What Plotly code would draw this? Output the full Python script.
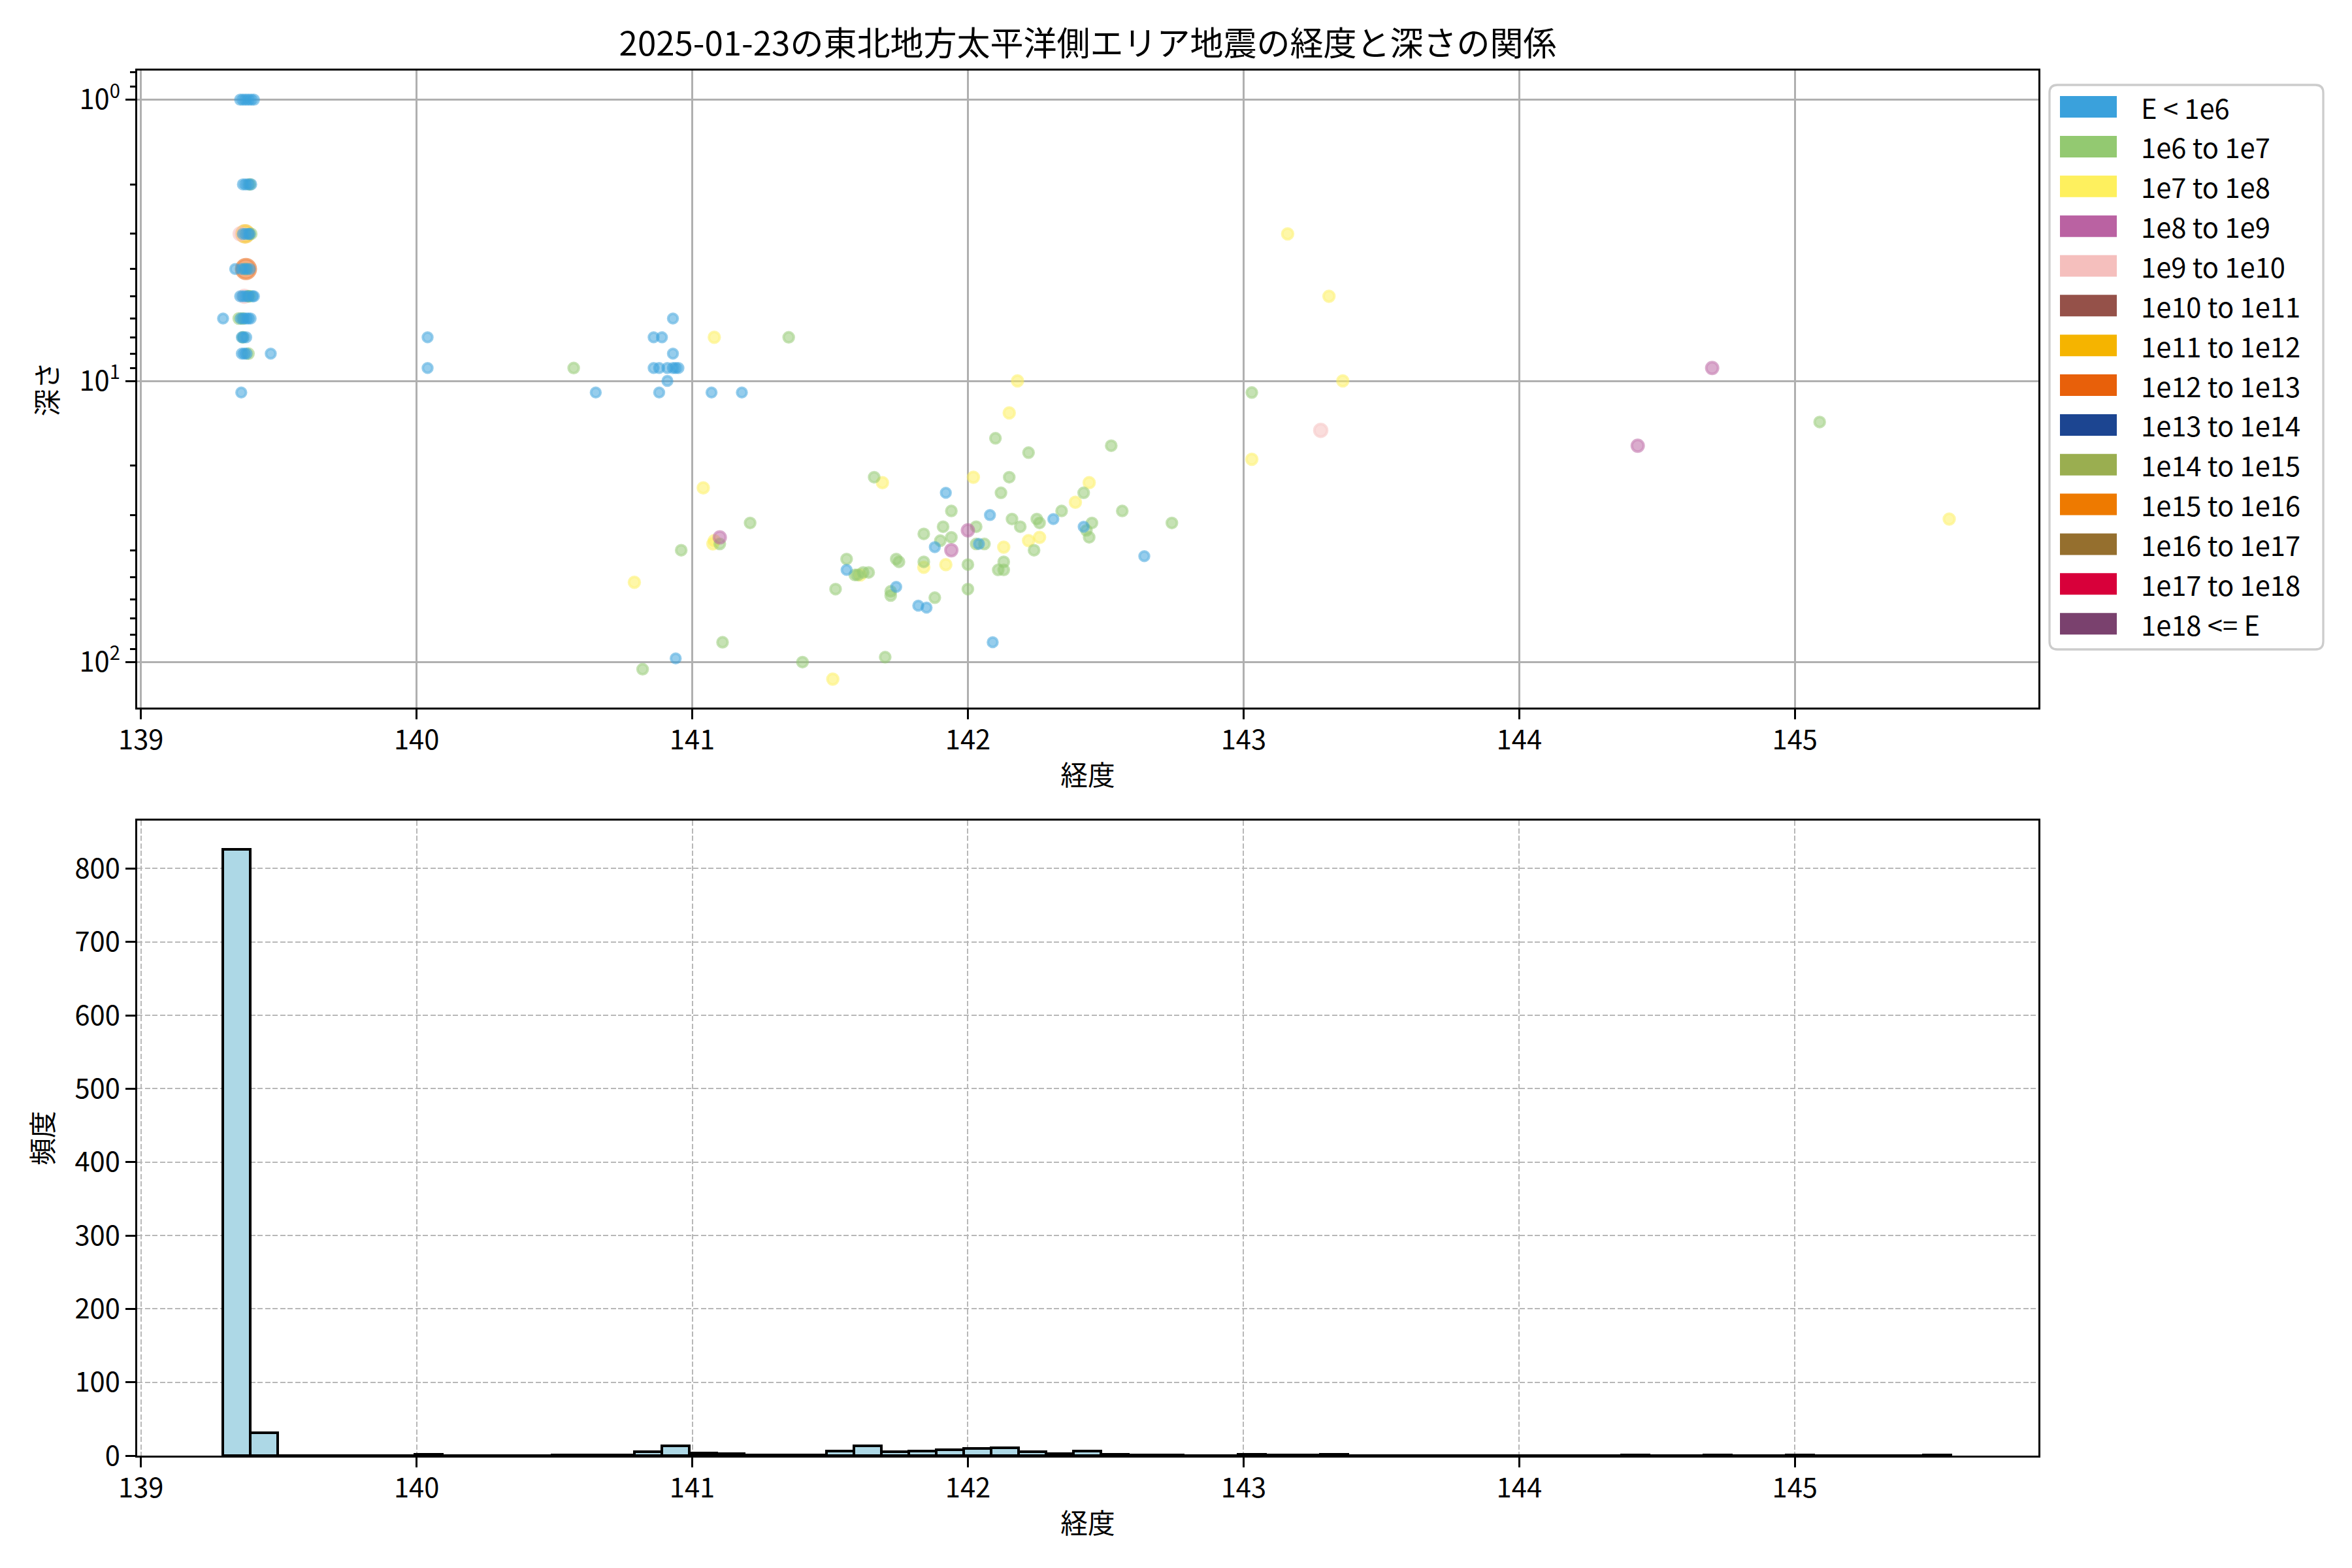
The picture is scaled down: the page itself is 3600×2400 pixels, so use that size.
import plotly.graph_objects as go

# ---------------- data ----------------
TITLE = "2025-01-23の東北地方太平洋側エリア地震の経度と深さの関係"
X_LABEL = "経度"
Y_LABEL_TOP = "深さ"
Y_LABEL_HIST = "頻度"

energy_classes = ["E < 1e6", "1e6 to 1e7", "1e7 to 1e8", "1e8 to 1e9", "1e9 to 1e10",
                  "1e10 to 1e11", "1e11 to 1e12", "1e12 to 1e13", "1e13 to 1e14",
                  "1e14 to 1e15", "1e15 to 1e16", "1e16 to 1e17", "1e17 to 1e18", "1e18 <= E"]

# earthquakes: longitude, depth (km), energy class index
lon = [
    # 1e7-1e8
    141.08, 141.04, 141.08, 141.075, 140.79, 141.51, 142.18, 142.15, 143.03, 141.69,
    142.02, 142.44, 142.39, 142.13, 142.22, 142.26, 141.84, 141.92, 141.61, 143.16,
    143.31, 143.36, 145.56,
    # 1e6-1e7
    140.57, 141.35, 141.21, 141.10, 140.96, 141.11, 140.82, 141.40, 141.56, 141.52,
    142.10, 142.22, 142.52, 143.03, 141.66, 142.15, 142.12, 142.42, 141.94, 142.34,
    142.56, 142.16, 142.25, 142.26, 142.74, 142.45, 142.43, 142.44, 142.19, 142.03,
    141.91, 141.84, 141.94, 141.90, 142.03, 142.06, 142.24, 141.74, 141.75, 141.84,
    142.00, 142.13, 142.11, 142.13, 141.59, 141.60, 141.62, 141.64, 141.72, 141.72,
    141.88, 142.00, 141.70, 145.09,
    # E < 1e6
    140.04, 140.04, 140.93, 140.86, 140.89, 140.93, 140.86, 140.88, 140.91, 140.93,
    140.94, 140.95, 140.91, 140.65, 140.88, 141.07, 141.18, 140.94, 141.56, 141.92,
    142.08, 142.31, 142.42, 141.88, 142.04, 142.64, 141.74, 141.82, 141.85, 142.09,
    # 1e8-1e9
    141.10, 142.00, 141.94, 144.70, 144.43,
    # 1e9-1e10
    143.28,
    # swarm cluster: larger events
    139.381, 139.378, 139.360, 139.375,
    # swarm cluster: 1e6-1e7
    139.395, 139.400, 139.380, 139.390, 139.395, 139.355, 139.370, 139.370, 139.390,
    # swarm cluster: E < 1e6
    139.36, 139.37, 139.38, 139.39, 139.40, 139.41,
    139.37, 139.38, 139.39, 139.40,
    139.37, 139.38, 139.39, 139.395,
    139.342, 139.365, 139.375, 139.385, 139.395,
    139.36, 139.37, 139.38, 139.39, 139.405, 139.41,
    139.298, 139.362, 139.372, 139.382, 139.39, 139.398,
    139.366, 139.372, 139.382,
    139.366, 139.375, 139.383, 139.471,
    139.364,
]
depth = [
    # 1e7-1e8
    7, 24, 37, 38, 52, 115, 10, 13, 19, 23,
    22, 23, 27, 39, 37, 36, 46, 45, 49, 3,
    5, 10, 31,
    # 1e6-1e7
    9, 7, 32, 38, 40, 85, 106, 100, 43, 55,
    16, 18, 17, 11, 22, 22, 25, 25, 29, 29,
    29, 31, 31, 32, 32, 32, 34, 36, 33, 33,
    33, 35, 36, 37, 38, 38, 40, 43, 44, 44,
    45, 44, 47, 47, 49, 49, 48, 48, 58, 56,
    59, 55, 96, 14,
    # E < 1e6
    7, 9, 6, 7, 7, 8, 9, 9, 9, 9,
    9, 9, 10, 11, 11, 11, 11, 97, 47, 25,
    30, 31, 33, 39, 38, 42, 54, 63, 64, 85,
    # 1e8-1e9
    36, 34, 40, 9, 17,
    # 1e9-1e10
    15,
    # swarm cluster: larger events
    4, 3, 3, 5,
    # swarm cluster: 1e6-1e7
    2, 3, 4, 5, 5, 6, 6, 7, 8,
    # swarm cluster: E < 1e6
    1, 1, 1, 1, 1, 1,
    2, 2, 2, 2,
    3, 3, 3, 3,
    4, 4, 4, 4, 4,
    5, 5, 5, 5, 5, 5,
    6, 6, 6, 6, 6, 6,
    7, 7, 7,
    8, 8, 8, 8,
    11,
]
energy_class = (
    [2] * 23 + [1] * 54 + [0] * 30 + [3] * 5 + [4] * 1
    + [7, 6, 4, 4]
    + [1] * 9
    + [0] * 45
)

# histogram of longitude (bins start, width, counts)
hist_bin_start = 139.297
hist_bin_width = 0.09952
hist_counts = [826, 31, 0, 0, 0, 0, 0, 2, 0, 0,
               0, 0, 1, 1, 1, 5, 13, 4, 3, 1,
               1, 1, 6, 13, 5, 6, 8, 10, 11, 5,
               3, 6, 2, 1, 1, 0, 0, 2, 1, 1,
               2, 0, 0, 0, 0, 0, 0, 0, 0, 0,
               0, 1, 0, 0, 1, 0, 0, 1, 0, 0,
               0, 0, 1]

x_ticks = [139, 140, 141, 142, 143, 144, 145]
depth_ticks = [1, 10, 100]
depth_tick_text = ["10<sup>0</sup>", "10<sup>1</sup>", "10<sup>2</sup>"]
depth_minor_ticks = [0.8, 0.9, 2, 3, 4, 5, 6, 7, 8, 9, 20, 30, 40, 50, 60, 70, 80, 90]
count_ticks = [0, 100, 200, 300, 400, 500, 600, 700, 800]

# ---------------- style ----------------
class_colors = ["#3AA1DC", "#93C971", "#FEF05E", "#BA62A2", "#F5BFBD", "#955149",
                "#F5B400", "#E8600A", "#1C4591", "#9AAE50", "#EE7A00", "#956F2E",
                "#D8003A", "#7A416E"]
class_sizes = [14.5, 15.5, 16.5, 18, 19.5, 22, 26, 30, 33, 36, 39, 42, 45, 48]
ALPHA = 0.75
FONT = "Noto Sans CJK JP"
OFF = 8  # page body margin of the html page
W, H = 3600 - 2 * OFF, 2400 - 2 * OFF
AX_L, AX_R = 210, 3120          # absolute screen positions of the plot area
AX_T, AX_B = 108, 2228
L, T = AX_L - OFF, AX_T - OFF
R, B = W - (AX_R - OFF), H - (AX_B - OFF)
PW, PH = W - L - R, H - T - B


def rgba(hexcol, a):
    h = hexcol.lstrip("#")
    r, g, b = int(h[0:2], 16), int(h[2:4], 16), int(h[4:6], 16)
    return f"rgba({r},{g},{b},{a})"


pt_colors = [rgba(class_colors[c], ALPHA) for c in energy_class]
pt_sizes = [class_sizes[c] for c in energy_class]

fig = go.Figure()

fig.add_trace(go.Scatter(
    x=lon, y=depth, mode="markers",
    marker=dict(color=pt_colors, size=pt_sizes,
                line=dict(color=pt_colors, width=4)),
    xaxis="x", yaxis="y", showlegend=False,
    text=[energy_classes[c] for c in energy_class],
))

centers = [hist_bin_start + (i + 0.5) * hist_bin_width for i in range(len(hist_counts))]
fig.add_trace(go.Bar(
    x=centers, y=hist_counts, width=hist_bin_width,
    marker=dict(color="#ADD8E6", line=dict(color="black", width=4)),
    xaxis="x2", yaxis="y2", showlegend=False,
))

x_range = [138.9865, 145.8835]
tick_font = dict(family=FONT, size=41.7, color="black")
title_font = dict(family=FONT, size=41.7, color="black")

common_x = dict(range=x_range, tickvals=x_ticks, ticks="outside", ticklen=14.6,
                tickwidth=3.3, tickcolor="black", showline=True, linecolor="black",
                linewidth=3.3, mirror=True, tickfont=tick_font, zeroline=False,
                ticklabelstandoff=-4)


def abs_to_paper_y(Y):
    return (AX_B - Y) / PH


fig.update_layout(
    width=W, height=H,
    margin=dict(l=L, r=R, t=T, b=B, autoexpand=False),
    paper_bgcolor="white", plot_bgcolor="white",
    font=dict(family=FONT, color="black"),
    bargap=0,
    title=dict(text=TITLE, x=(L + PW / 2) / W, xanchor="center", xref="container",
               y=1 - (67 - OFF) / H, yanchor="middle", yref="container",
               font=dict(family=FONT, size=51, color="black")),
    xaxis=dict(domain=[0, 1], anchor="y", showgrid=True, gridcolor="#b0b0b0", gridwidth=3.3,
               title=dict(text=X_LABEL, font=title_font, standoff=16), **common_x),
    yaxis=dict(domain=[abs_to_paper_y(1083), 1], anchor="x", type="log",
               range=[2.1617, -0.1036], tickvals=depth_ticks, ticktext=depth_tick_text,
               ticks="outside", ticklen=14.6, tickwidth=3.3, tickcolor="black",
               showline=True, linecolor="black", linewidth=3.3, mirror=True,
               tickfont=tick_font, showgrid=True, gridcolor="#b0b0b0", gridwidth=3.3,
               zeroline=False,
               minor=dict(tickvals=depth_minor_ticks, ticks="outside", ticklen=8.3,
                          tickwidth=2.5, tickcolor="black", showgrid=False),
               title=dict(text=Y_LABEL_TOP, font=title_font, standoff=20)),
    xaxis2=dict(domain=[0, 1], anchor="y2", showgrid=True, gridcolor="#b8b8b8", gridwidth=2,
                griddash="8px,3.5px",
                title=dict(text=X_LABEL, font=title_font, standoff=16), **common_x),
    yaxis2=dict(domain=[0, abs_to_paper_y(1256)], anchor="x2", range=[0, 865.3],
                tickvals=count_ticks, ticks="outside", ticklen=14.6, tickwidth=3.3,
                tickcolor="black", showline=True, linecolor="black", linewidth=3.3,
                mirror=True, tickfont=tick_font, showgrid=True, gridcolor="#b8b8b8",
                gridwidth=2, griddash="8px,3.5px", zeroline=False,
                title=dict(text=Y_LABEL_HIST, font=title_font, standoff=20)),
)

# ---------------- legend (drawn manually, matplotlib-style patches) ----------------
def px_x(X):
    return (X - AX_L) / PW


def px_y(Y):
    return (AX_B - Y) / PH


box_l, box_r, box_t, box_b, rad = 3137, 3556, 130, 994, 12
rx, ry = rad / PW, rad / PH
x0, x1, y0, y1 = px_x(box_l), px_x(box_r), px_y(box_b), px_y(box_t)
path = (f"M {x0 + rx},{y1} L {x1 - rx},{y1} Q {x1},{y1} {x1},{y1 - ry} "
        f"L {x1},{y0 + ry} Q {x1},{y0} {x1 - rx},{y0} L {x0 + rx},{y0} "
        f"Q {x0},{y0} {x0},{y0 + ry} L {x0},{y1 - ry} Q {x0},{y1} {x0 + rx},{y1} Z")
shapes = [dict(type="path", xref="paper", yref="paper", path=path,
               line=dict(color="#cccccc", width=3.3), fillcolor="rgba(255,255,255,0.8)")]
annotations = []
for i, (name, col) in enumerate(zip(energy_classes, class_colors)):
    yc = 163.6 + i * 60.85
    shapes.append(dict(type="rect", xref="paper", yref="paper",
                       x0=px_x(3153), x1=px_x(3240), y0=px_y(yc + 16.5), y1=px_y(yc - 16.5),
                       line=dict(width=0), fillcolor=col))
    annotations.append(dict(xref="paper", yref="paper", x=px_x(3275), y=px_y(yc),
                            xanchor="left", yanchor="middle", text=name, showarrow=False,
                            font=dict(family=FONT, size=41.7, color="black")))

fig.update_layout(shapes=shapes, annotations=annotations)

fig.write_html("out.html")
